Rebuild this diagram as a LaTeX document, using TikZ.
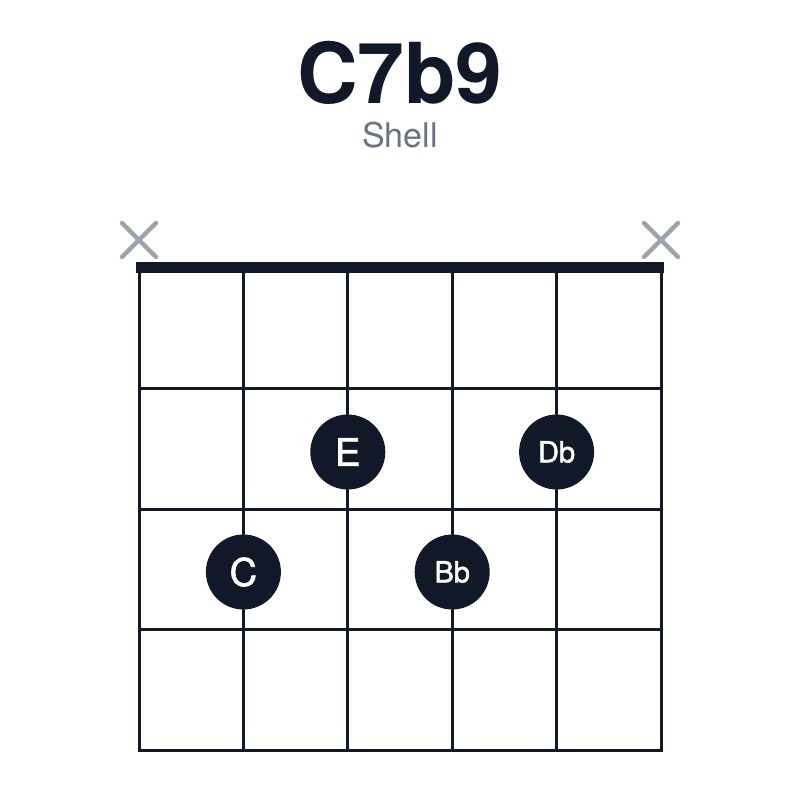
\documentclass[tikz,border=0pt]{standalone}
\usepackage{fontspec}
\setmainfont{TeX Gyre Heros}
\newfontfamily\dotfont[FakeBold=1.6]{TeX Gyre Heros}
\definecolor{ink}{HTML}{111827}
\definecolor{mutegray}{HTML}{9CA3AF}
\definecolor{subgray}{HTML}{6B7280}
\tikzset{
  fretline/.style={draw=ink, line width=3pt},
  nutline/.style={draw=ink, line width=11pt},
  mutemark/.style={draw=mutegray, line width=4.5pt, line cap=round},
  notedot/.style={circle, fill=ink, text=white, minimum size=75pt, inner sep=0pt,
    font=\dotfont\fontsize{38}{38}\selectfont},
  notedotsm/.style={notedot, font=\dotfont\fontsize{29}{29}\selectfont},
}
\begin{document}
\begin{tikzpicture}[x=1pt, y=-1pt]
    \useasboundingbox (0,0) rectangle (800,800);
    \def\x{104.4}
    \def\y{120.6}
    % strings and frets
    \foreach \i in {0,...,5} {
      \coordinate (T\i) at (139+\i*\x, 268);
      \coordinate (B\i) at (139+\i*\x, 751);
    }
    \foreach \j in {1,...,4} {
      \coordinate (L\j) at (137.5, 268+\j*\y);
      \coordinate (R\j) at (662.5, 268+\j*\y);
    }
    \foreach \i in {0,...,5} \draw[fretline] (T\i) -- (B\i);
    \foreach \j in {1,...,4} \draw[fretline] (L\j) -- (R\j);
    \coordinate (N0) at (136, 267.5);
    \coordinate (N1) at (664, 267.5);
    \draw[nutline] (N0) -- (N1);
    % muted strings
    \coordinate (M0) at (139, 240);
    \coordinate (M5) at (661, 240);
    \foreach \m in {M0,M5} {
      \draw[mutemark] ([shift={(-17,-17)}]\m) -- ([shift={(17,17)}]\m);
      \draw[mutemark] ([shift={(-17,17)}]\m) -- ([shift={(17,-17)}]\m);
    }
    % title
    \node[anchor=base, text=ink, font=\fontsize{84}{84}\selectfont\bfseries] (title) at (400,103) {C7b9};
    \node[anchor=base, text=subgray, font=\fontsize{34}{34}\selectfont] (sub) at (400,147) {Shell};
    % notes
    \node[notedot] (E) at (139+2*\x, 452) {E};
    \node[notedotsm] (Db) at (139+4*\x, 452) {Db};
    \node[notedot] (C) at (139+1*\x, 572) {C};
    \node[notedotsm] (Bb) at (139+3*\x, 572) {Bb};
  \end{tikzpicture}
\end{document}
